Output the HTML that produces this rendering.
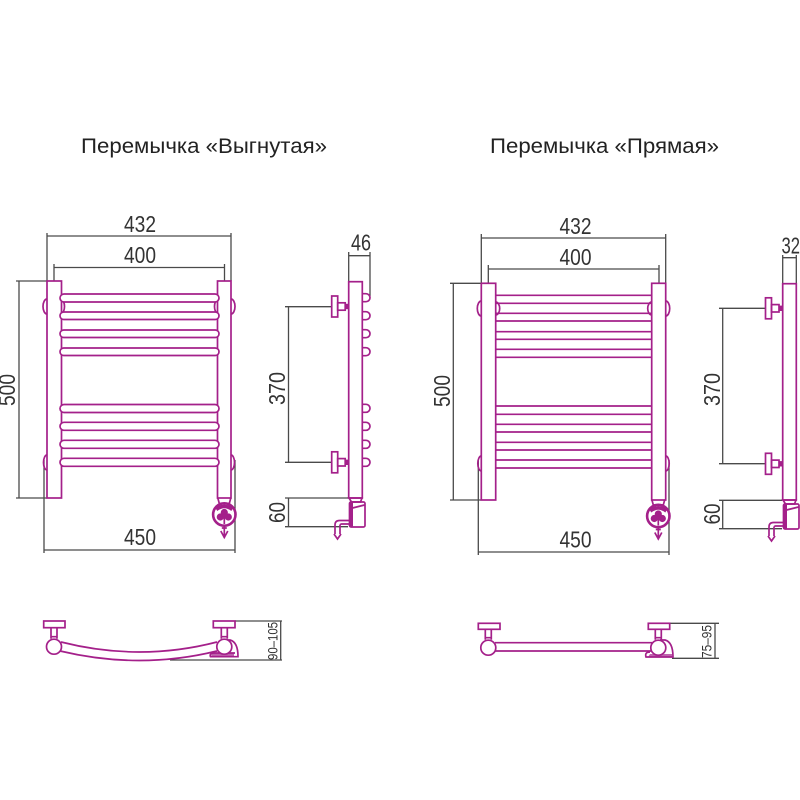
<!DOCTYPE html>
<html><head><meta charset="utf-8"><style>
html,body{margin:0;padding:0;background:#fff}
svg{display:block;filter:blur(0.35px)}
text{font-family:"Liberation Sans",sans-serif;fill:#333}
.m{fill:none;stroke:#a4208a;stroke-width:1.7}
.f{fill:#fff;stroke:#a4208a;stroke-width:1.7}
.d{fill:none;stroke:#4a4a4a;stroke-width:1.3}
.n{font-size:23px}
.t{font-size:21px;fill:#222}
</style></head><body>
<svg width="800" height="800" viewBox="0 0 800 800" xmlns="http://www.w3.org/2000/svg">
<rect width="800" height="800" fill="#fff"/>
<defs>
<g id="br">
  <rect class="m" x="0" y="-10.5" width="6" height="21"/>
  <rect class="m" x="6" y="-3.7" width="7.5" height="7.4"/>
  <rect x="13" y="-2.7" width="4" height="5.4" fill="#a4208a"/>
</g>
<g id="vs">
  <path class="m" d="M0.5 -28 L13.5 -28 L12 -24 L3 -24 Z"/>
  <rect class="m" x="1" y="-24" width="15.5" height="25" rx="1.5"/>
  <rect x="1" y="-24" width="3.5" height="25" fill="#a4208a"/>
  <path class="m" d="M4 -18 L16 -21"/>
  <path class="m" d="M1 -5.5 H-9 Q-13.5 -5.5 -13.5 -1 V8 M-8.5 -1.5 V8 M-8.5 -1.5 Q-8.5 -1.5 -7 -2 H1"/>
  <path class="m" d="M-14.5 8 L-11 13 L-7.5 8"/>
</g>
<g id="vf">
  <path class="m" d="M-6.5 0 L-5 5.5 H5 L6.5 0"/>
  <circle cx="0" cy="16.5" r="11.2" fill="none" stroke="#a4208a" stroke-width="2.6"/>
  <path d="M-9 10 Q0 3 9 10 L7 13 Q0 7.5 -7 13 Z" fill="#a4208a"/>
  <circle cx="0" cy="14.5" r="3.6" fill="#a4208a"/>
  <circle cx="-4" cy="19" r="3.6" fill="#a4208a"/>
  <circle cx="4" cy="19" r="3.6" fill="#a4208a"/>
  <path class="m" d="M0 18 V26"/>
  <path class="m" d="M0 28 V40 M-3.5 33 L0 39.5 L3.5 33 M-2.5 30 H2.5"/>
</g>
</defs>

<text class="t" x="81" y="153" textLength="246" lengthAdjust="spacingAndGlyphs">Перемычка «Выгнутая»</text>
<text class="t" x="490" y="153" textLength="229" lengthAdjust="spacingAndGlyphs">Перемычка «Прямая»</text>

<!-- LEFT FRONT -->
<g>
<path class="d" d="M47 233V281M231 233V281M47 236H231M54 264V281M224.5 264V281M54 267.5H224.5M16 281H47M16 498H47M19 281V498M44 460V553M235 460V553M44 550H235"/>
<text class="n" x="124" y="232" textLength="32" lengthAdjust="spacingAndGlyphs">432</text>
<text class="n" x="124" y="263" textLength="32" lengthAdjust="spacingAndGlyphs">400</text>
<text class="n" x="124" y="545" textLength="32" lengthAdjust="spacingAndGlyphs">450</text>
<text class="n" transform="translate(15,406) rotate(-90)" textLength="32" lengthAdjust="spacingAndGlyphs">500</text>
<path class="m" d="M47 299A4 7.5 0 0 0 47 314M231 299A4 7.5 0 0 1 231 314M47 455A3.5 7.5 0 0 0 47 470M231 455A3.5 7.5 0 0 1 231 470"/>
<rect class="f" x="47" y="281" width="14.5" height="217"/>
<rect class="f" x="217.5" y="281" width="13.5" height="217"/>
<path class="m" d="M61.5 300A3 6.5 0 0 1 61.5 313M217.5 300A3 6.5 0 0 0 217.5 313"/>
<rect class="f" x="60" y="294" width="159" height="8" rx="4"/>
<rect class="f" x="60" y="312" width="159" height="7.5" rx="3.7"/>
<rect class="f" x="60" y="330" width="159" height="7.5" rx="3.7"/>
<rect class="f" x="60" y="348" width="159" height="7.5" rx="3.7"/>
<rect class="f" x="60" y="404.5" width="159" height="8" rx="4"/>
<rect class="f" x="60" y="422.3" width="159" height="8" rx="4"/>
<rect class="f" x="60" y="440.3" width="159" height="8" rx="4"/>
<rect class="f" x="60" y="458.3" width="159" height="8" rx="4"/>
<use href="#vf" x="224.3" y="498"/>
</g>

<!-- LEFT SIDE -->
<g>
<path class="d" d="M348.7 252V281M370 252V296M348.7 255.7H370M285 306.7H332M285 462.3H332M288.5 306.7V462.3M285 498H348M285 526.7H348M288.5 498V526.7"/>
<text class="n" x="351" y="250.7" textLength="20" lengthAdjust="spacingAndGlyphs">46</text>
<text class="n" transform="translate(285,405) rotate(-90)" textLength="33" lengthAdjust="spacingAndGlyphs">370</text>
<text class="n" transform="translate(285,523) rotate(-90)" textLength="21" lengthAdjust="spacingAndGlyphs">60</text>
<path class="m" d="M362 293.7H366A4 4 0 0 1 366 301.7H362M362 311.7H366A4 4 0 0 1 366 319.7H362M362 329.7H366A4 4 0 0 1 366 337.7H362M362 347.7H366A4 4 0 0 1 366 355.7H362M362 404.3H366A4 4 0 0 1 366 412.3H362M362 422.3H366A4 4 0 0 1 366 430.3H362M362 440.3H366A4 4 0 0 1 366 448.3H362M362 458.3H366A4 4 0 0 1 366 466.3H362"/>
<rect class="m" x="348.7" y="281.7" width="13.6" height="216.3"/>
<use href="#br" x="331.7" y="306.5"/>
<use href="#br" x="331.7" y="462.3"/>
<use href="#vs" x="348.5" y="526"/>
</g>

<!-- RIGHT FRONT -->
<g>
<path class="d" d="M481.3 234V283M665.7 234V283M481.3 238H665.7M488.3 265V283M659 265V283M488.3 269H659M450 283.3H481M450 500H481M453.3 283.3V500M478.3 460V555M669 460V555M478.3 552H669"/>
<text class="n" x="559.5" y="234" textLength="32" lengthAdjust="spacingAndGlyphs">432</text>
<text class="n" x="559.5" y="265" textLength="32" lengthAdjust="spacingAndGlyphs">400</text>
<text class="n" x="559.5" y="547.3" textLength="32" lengthAdjust="spacingAndGlyphs">450</text>
<text class="n" transform="translate(450,407) rotate(-90)" textLength="32" lengthAdjust="spacingAndGlyphs">500</text>
<path class="m" d="M481.3 301A4 7.5 0 0 0 481.3 316M665.7 301A4 7.5 0 0 1 665.7 316M481.3 456A3.5 7.5 0 0 0 481.3 471M665.7 456A3.5 7.5 0 0 1 665.7 471"/>
<rect class="f" x="481.3" y="283.3" width="14.4" height="216.7"/>
<rect class="f" x="651.7" y="283.3" width="14" height="216.7"/>
<path class="m" d="M495.7 302A4 6.5 0 0 1 495.7 315M651.7 302A4 6.5 0 0 0 651.7 315"/>
<path class="m" d="M495.7 295.3H651.7M495.7 303.3H651.7M495.7 313.3H651.7M495.7 321H651.7M495.7 331.7H651.7M495.7 339.3H651.7M495.7 349.3H651.7M495.7 357.3H651.7M495.7 406H651.7M495.7 414.3H651.7M495.7 424.3H651.7M495.7 432H651.7M495.7 442.3H651.7M495.7 450H651.7M495.7 460H651.7M495.7 468H651.7"/>
<use href="#vf" x="658.3" y="499.5"/>
</g>

<!-- RIGHT SIDE -->
<g>
<path class="d" d="M782.7 255V283M796.3 255V283M782.7 257.7H796.3M719 308.3H766M719 463.7H766M722.7 308.3V463.7M719 500.3H782M719 528.7H782M722.7 500.3V528.7"/>
<text class="n" x="781.5" y="253.3" textLength="18.5" lengthAdjust="spacingAndGlyphs">32</text>
<text class="n" transform="translate(720,406) rotate(-90)" textLength="33" lengthAdjust="spacingAndGlyphs">370</text>
<text class="n" transform="translate(720,524.5) rotate(-90)" textLength="21" lengthAdjust="spacingAndGlyphs">60</text>
<rect class="m" x="782.7" y="283.7" width="13.6" height="216.3"/>
<use href="#br" x="765.5" y="308.3"/>
<use href="#br" x="765.5" y="463.8"/>
<use href="#vs" x="782.5" y="528"/>
</g>

<!-- LEFT TOP VIEW -->
<g>
<path class="d" d="M235 621H282M170 660H282M280.7 621V660"/>
<text transform="translate(277.5,660) rotate(-90)" font-size="14" textLength="38" lengthAdjust="spacingAndGlyphs">90–105</text>
<path class="m" d="M226 640H230Q238 642 238 656.7H210.5Q209 653 215 653H235"/>
<path d="M212 653.5H234V657H211Z" fill="#a4208a" opacity=".7"/>
<path class="m" d="M61 642Q140 662 217 642M60 651Q140 670 217 651"/>
<rect class="m" x="43.7" y="621" width="21.3" height="6.7"/>
<rect class="m" x="213.3" y="621" width="21.7" height="6.7"/>
<g transform="translate(54,646.7)"><path class="m" d="M-3 -8 V-19 M3 -8 V-19 M-3 -10 H3"/><circle class="f" r="7.5"/></g>
<g transform="translate(224.3,646.7)"><path class="m" d="M-3 -8 V-19 M3 -8 V-19 M-3 -10 H3"/><circle class="f" r="7.5"/></g>
</g>

<!-- RIGHT TOP VIEW -->
<g>
<path class="d" d="M670 623.3H719M672 658.3H719M715 623.3V658.3"/>
<text transform="translate(711.5,658) rotate(-90)" font-size="14" textLength="33" lengthAdjust="spacingAndGlyphs">75–95</text>
<path class="m" d="M660 640H665Q673 642 673 657H646Q644.5 652 650 652"/>
<path fill="#a4208a" d="M650 654H672V657H648Z" opacity=".7"/>
<path class="m" d="M495 642.7H652M495 651H652"/>
<rect class="m" x="478.3" y="623.3" width="21.7" height="6"/>
<rect class="m" x="648.3" y="623.3" width="21.4" height="6"/>
<g transform="translate(488.3,647.7)"><path class="m" d="M-3 -8 V-18.5 M3 -8 V-18.5 M-3 -10 H3"/><circle class="f" r="7.5"/></g>
<g transform="translate(658.3,647.7)"><path class="m" d="M-3 -8 V-18.5 M3 -8 V-18.5 M-3 -10 H3"/><circle class="f" r="7.5"/></g>
</g>
</svg>
</body></html>
